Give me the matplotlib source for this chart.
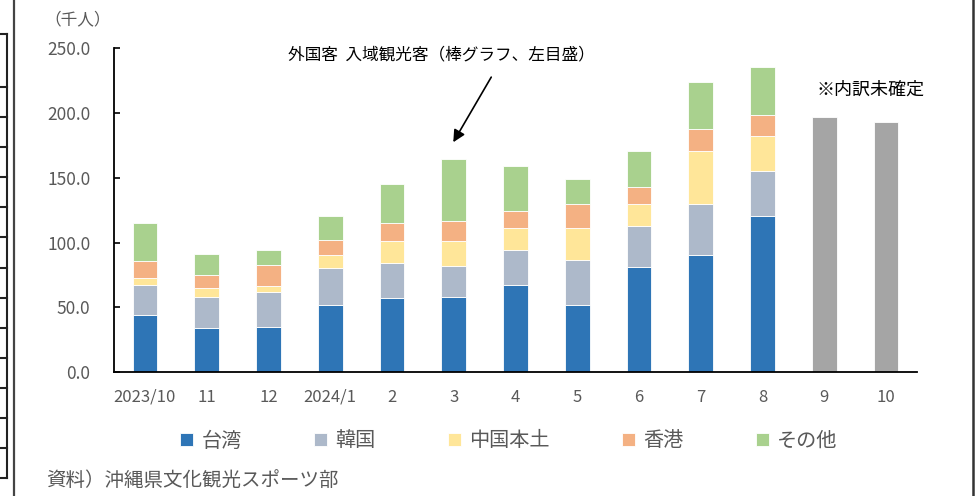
import matplotlib
matplotlib.use('Agg')
import matplotlib.pyplot as plt
from matplotlib.lines import Line2D
import numpy as np

plt.rcParams['font.family'] = ['Noto Sans CJK JP', 'DejaVu Sans']

## data (千人)
months = ['2023/10', '11', '12', '2024/1', '2', '3', '4', '5', '6', '7', '8', '9', '10']
taiwan = [44.2, 34.2, 35.2, 52.2, 57.3, 58.4, 67.4, 52.2, 81.5, 90.5, 120.6]
korea = [23.4, 24.2, 27.0, 28.3, 27.0, 23.4, 27.2, 34.7, 31.4, 39.1, 34.7]
china = [5.2, 6.6, 4.4, 10.2, 17.0, 19.5, 17.0, 24.7, 16.7, 41.2, 27.0]
hongkong = [12.8, 10.3, 16.4, 11.6, 14.1, 15.4, 12.9, 18.0, 13.1, 16.7, 15.7]
other = [29.8, 15.7, 11.6, 18.3, 29.9, 47.6, 34.7, 19.3, 28.1, 36.3, 37.3]
unconfirmed = [197.0, 193.1]  # 2024/9, 10 (内訳未確定)

series_names = ['台湾', '韓国', '中国本土', '香港', 'その他']
series_colors = ['#2E75B6', '#ADB9CA', '#FFE699', '#F4B183', '#A9D18E']
grey = '#595959'

W, H = 976, 496
fig = plt.figure(figsize=(W / 100, H / 100), dpi=100)
ax = fig.add_axes([114 / W, 1 - 372.3 / H, (917 - 114) / W, (372.3 - 48) / H])

x = np.arange(len(taiwan))
bottom = np.zeros(len(taiwan))
for vals, name, col in zip([taiwan, korea, china, hongkong, other], series_names, series_colors):
    ax.bar(x, vals, bottom=bottom, width=0.4, color=col, edgecolor='white',
           linewidth=0.6, label=name)
    bottom += np.array(vals)

x2 = np.arange(len(taiwan), len(months))
ax.bar(x2, unconfirmed, width=0.4, color='#A5A5A5', edgecolor='white', linewidth=0.6)

ax.set_xlim(-0.5, len(months) - 0.5)
ax.set_ylim(0, 250)
ax.set_yticks(np.arange(0, 251, 50))
ax.set_yticklabels(['%.1f' % v for v in np.arange(0, 251, 50)])
ax.set_xticks(np.arange(len(months)))
ax.set_xticklabels(months)
ax.tick_params(axis='y', direction='in', length=4, width=1.2, pad=17,
               labelsize=12.5, labelcolor=grey)
ax.tick_params(axis='x', length=0, pad=12, labelsize=12, labelcolor=grey)
for s in ['top', 'right']:
    ax.spines[s].set_visible(False)
ax.spines['left'].set_linewidth(1.3)
ax.spines['bottom'].set_linewidth(1.3)

## annotations
ax.text(4.8, 244.5, '外国客  入域観光客（棒グラフ、左目盛）', ha='center', va='center',
        fontsize=12, color='black')
ax.annotate('', xy=(4.97, 175.5), xytext=(5.63, 229.4),
            arrowprops=dict(arrowstyle='-|>', color='black', lw=1.2,
                            mutation_scale=18))
ax.text(11.75, 218, '※内訳未確定', ha='center', va='center', fontsize=13, color='black')

fig.text(44 / W, 1 - 20 / H, '（千人）', ha='left', va='center', fontsize=12, color=grey)
fig.text(46 / W, 1 - 480 / H, '資料）沖縄県文化観光スポーツ部', ha='left', va='center',
         fontsize=14, color=grey)

leg = ax.legend(loc='center', bbox_to_anchor=(0.492, (372.3 - 441) / (372.3 - 48)),
                ncol=5, frameon=False, fontsize=14.5, handlelength=0.65,
                handleheight=0.65, handletextpad=0.4, columnspacing=3.6)
for t in leg.get_texts():
    t.set_color(grey)

## cropped table fragments at the page edges
def px_line(x0, y0, x1, y1, lw=1.5, color='#222222'):
    fig.add_artist(Line2D([x0 / W, x1 / W], [1 - y0 / H, 1 - y1 / H],
                          transform=fig.transFigure, color=color, lw=lw))

px_line(14, 0, 14, H, lw=1.6, color='#444444')
px_line(973, 0, 973, H, lw=1.8, color='#333333')
px_line(6.5, 34, 6.5, 478, lw=1.5)
for yy in [34, 87, 117, 147, 177, 207, 237, 268, 298, 328, 358, 388, 418, 448, 478]:
    px_line(0, yy, 7, yy, lw=1.5)

fig.savefig('out.png', dpi=100)
